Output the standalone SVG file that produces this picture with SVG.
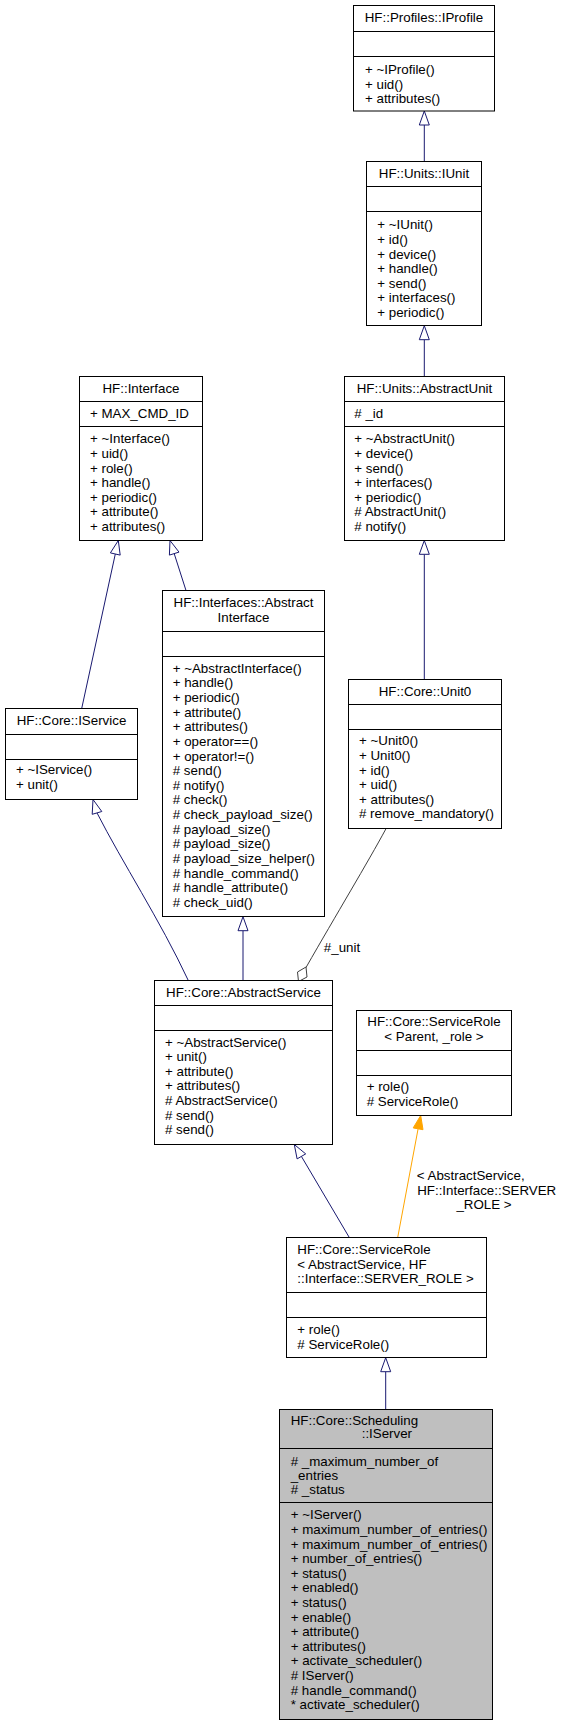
<svg xmlns="http://www.w3.org/2000/svg" width="563" height="1725" viewBox="0 0 563 1725">
<style>
.box{fill:#fff;stroke:#000;stroke-width:1}
.gbox{fill:#bfbfbf;stroke:#000;stroke-width:1}
.sep{stroke:#000;stroke-width:1}
text{font-family:"Liberation Sans",Arial,Helvetica,sans-serif;font-size:13.33px;fill:#000}
.c{text-anchor:middle}
.inh{fill:none;stroke:#191970;stroke-width:1}
.inhA{fill:#fff;stroke:#191970;stroke-width:1}
.tpl{fill:none;stroke:#ffa500;stroke-width:1}
.tplA{fill:#ffa500;stroke:#ffa500;stroke-width:1}
.use{fill:none;stroke:#404040;stroke-width:1}
.useA{fill:#fff;stroke:#404040;stroke-width:1}
</style>
<rect width="563" height="1725" fill="#fff"/>

<g id="connectors">
  <!-- IUnit -> IProfile -->
  <path class="inh" d="M424.3,125 L424.3,161.5"/>
  <polygon class="inhA" points="424.3,111 419.3,125 429.3,125"/>
  <!-- AbstractUnit -> IUnit -->
  <path class="inh" d="M424.3,339.7 L424.3,376.5"/>
  <polygon class="inhA" points="424.3,325.7 419.3,339.7 429.3,339.7"/>
  <!-- Unit0 -> AbstractUnit -->
  <path class="inh" d="M424.3,554.3 L424.3,679.5"/>
  <polygon class="inhA" points="424.3,540.5 419.3,554.3 429.3,554.3"/>
  <!-- IService -> Interface -->
  <path class="inh" d="M115.3,554 L81.7,708.5"/>
  <polygon class="inhA" points="118.3,540.5 120.2,555.1 110.4,552.9"/>
  <!-- AbstractInterface -> Interface -->
  <path class="inh" d="M174.2,553.6 L186,590.5"/>
  <polygon class="inhA" points="170,540.5 179,552.1 169.4,555.1"/>
  <!-- AbstractService -> IService -->
  <path class="inh" d="M97,812.9 C122,862 160,920 188.3,980.5"/>
  <polygon class="inhA" points="93,799.5 101.8,811.5 92.2,814.3"/>
  <!-- AbstractService -> AbstractInterface -->
  <path class="inh" d="M243,930.7 L243,980.5"/>
  <polygon class="inhA" points="243,916.7 238,930.7 248,930.7"/>
  <!-- Unit0 used by AbstractService (#_unit) -->
  <path class="use" d="M386,828.7 C368,862 336,915 306,967.5"/>
  <polygon class="useA" points="306,967 307,977 298.5,981.5 297.5,972"/>
  <text x="342" y="951.5" class="c">#_unit</text>
  <!-- ServiceRole<AS> -> AbstractService -->
  <path class="inh" d="M301.4,1156.4 L349.3,1237.5"/>
  <polygon class="inhA" points="294.3,1144.5 305.7,1153.9 297.1,1158.9"/>
  <!-- ServiceRole<AS> -> ServiceRole<Parent,_role> (template) -->
  <path class="tpl" d="M418.1,1128.8 L397.7,1237.5"/>
  <polygon class="tplA" points="420.7,1115.5 423,1129.7 413.2,1127.9"/>
  <text x="470.7" y="1180" class="c">&lt; AbstractService,</text>
  <text x="486.7" y="1194.5" class="c">HF::Interface::SERVER</text>
  <text x="484" y="1209.3" class="c">_ROLE &gt;</text>
  <!-- IServer -> ServiceRole<AS> -->
  <path class="inh" d="M385.7,1371.7 L385.7,1409.5"/>
  <polygon class="inhA" points="385.7,1357.7 380.7,1371.7 390.7,1371.7"/>
</g>

<g id="IProfile">
  <rect class="box" x="353.5" y="5.5" width="141" height="105.5"/>
  <line class="sep" x1="353.5" y1="31.5" x2="494.5" y2="31.5"/>
  <line class="sep" x1="353.5" y1="56.5" x2="494.5" y2="56.5"/>
  <text x="424" y="21.7" class="c">HF::Profiles::IProfile</text>
  <text x="365" y="74">+ ~IProfile()</text>
  <text x="365" y="88.6">+ uid()</text>
  <text x="365" y="103.2">+ attributes()</text>
</g>

<g id="IUnit">
  <rect class="box" x="366.5" y="161.5" width="115" height="164"/>
  <line class="sep" x1="366.5" y1="186.5" x2="481.5" y2="186.5"/>
  <line class="sep" x1="366.5" y1="211.5" x2="481.5" y2="211.5"/>
  <text x="424" y="178" class="c">HF::Units::IUnit</text>
  <text x="377.3" y="229.3">+ ~IUnit()</text>
  <text x="377.3" y="243.9">+ id()</text>
  <text x="377.3" y="258.5">+ device()</text>
  <text x="377.3" y="273.1">+ handle()</text>
  <text x="377.3" y="287.7">+ send()</text>
  <text x="377.3" y="302.3">+ interfaces()</text>
  <text x="377.3" y="316.9">+ periodic()</text>
</g>

<g id="AbstractUnit">
  <rect class="box" x="344.5" y="376.5" width="160" height="164"/>
  <line class="sep" x1="344.5" y1="401.5" x2="504.5" y2="401.5"/>
  <line class="sep" x1="344.5" y1="426.5" x2="504.5" y2="426.5"/>
  <text x="424.5" y="392.7" class="c">HF::Units::AbstractUnit</text>
  <text x="354.3" y="417.6"># _id</text>
  <text x="354.3" y="443.3">+ ~AbstractUnit()</text>
  <text x="354.3" y="457.9">+ device()</text>
  <text x="354.3" y="472.5">+ send()</text>
  <text x="354.3" y="487.1">+ interfaces()</text>
  <text x="354.3" y="501.7">+ periodic()</text>
  <text x="354.3" y="516.3"># AbstractUnit()</text>
  <text x="354.3" y="530.9"># notify()</text>
</g>

<g id="Interface">
  <rect class="box" x="79.5" y="376.5" width="123" height="164"/>
  <line class="sep" x1="79.5" y1="401.5" x2="202.5" y2="401.5"/>
  <line class="sep" x1="79.5" y1="426.5" x2="202.5" y2="426.5"/>
  <text x="141" y="392.7" class="c">HF::Interface</text>
  <text x="90" y="417.6">+ MAX_CMD_ID</text>
  <text x="90" y="443.3">+ ~Interface()</text>
  <text x="90" y="457.9">+ uid()</text>
  <text x="90" y="472.5">+ role()</text>
  <text x="90" y="487.1">+ handle()</text>
  <text x="90" y="501.7">+ periodic()</text>
  <text x="90" y="516.3">+ attribute()</text>
  <text x="90" y="530.9">+ attributes()</text>
</g>

<g id="AbstractInterface">
  <rect class="box" x="162.5" y="590.5" width="162" height="326"/>
  <line class="sep" x1="162.5" y1="631.5" x2="324.5" y2="631.5"/>
  <line class="sep" x1="162.5" y1="656.5" x2="324.5" y2="656.5"/>
  <text x="243.5" y="607" class="c">HF::Interfaces::Abstract</text>
  <text x="243.5" y="621.6" class="c">Interface</text>
  <text x="172.7" y="672.6">+ ~AbstractInterface()</text>
  <text x="172.7" y="687.25">+ handle()</text>
  <text x="172.7" y="701.9">+ periodic()</text>
  <text x="172.7" y="716.55">+ attribute()</text>
  <text x="172.7" y="731.2">+ attributes()</text>
  <text x="172.7" y="745.85">+ operator==()</text>
  <text x="172.7" y="760.5">+ operator!=()</text>
  <text x="172.7" y="775.15"># send()</text>
  <text x="172.7" y="789.8"># notify()</text>
  <text x="172.7" y="804.45"># check()</text>
  <text x="172.7" y="819.1"># check_payload_size()</text>
  <text x="172.7" y="833.75"># payload_size()</text>
  <text x="172.7" y="848.4"># payload_size()</text>
  <text x="172.7" y="863.05"># payload_size_helper()</text>
  <text x="172.7" y="877.7"># handle_command()</text>
  <text x="172.7" y="892.35"># handle_attribute()</text>
  <text x="172.7" y="907"># check_uid()</text>
</g>

<g id="IService">
  <rect class="box" x="5.5" y="708.5" width="132" height="91"/>
  <line class="sep" x1="5.5" y1="734.5" x2="137.5" y2="734.5"/>
  <line class="sep" x1="5.5" y1="759.5" x2="137.5" y2="759.5"/>
  <text x="71.5" y="725" class="c">HF::Core::IService</text>
  <text x="16" y="774.3">+ ~IService()</text>
  <text x="16" y="788.9">+ unit()</text>
</g>

<g id="Unit0">
  <rect class="box" x="348.5" y="679.5" width="153" height="149"/>
  <line class="sep" x1="348.5" y1="704.5" x2="501.5" y2="704.5"/>
  <line class="sep" x1="348.5" y1="729.5" x2="501.5" y2="729.5"/>
  <text x="425" y="695.7" class="c">HF::Core::Unit0</text>
  <text x="359" y="745.3">+ ~Unit0()</text>
  <text x="359" y="759.9">+ Unit0()</text>
  <text x="359" y="774.5">+ id()</text>
  <text x="359" y="789.1">+ uid()</text>
  <text x="359" y="803.7">+ attributes()</text>
  <text x="359" y="818.3"># remove_mandatory()</text>
</g>

<g id="AbstractService">
  <rect class="box" x="154.5" y="980.5" width="178" height="164"/>
  <line class="sep" x1="154.5" y1="1005.5" x2="332.5" y2="1005.5"/>
  <line class="sep" x1="154.5" y1="1030.5" x2="332.5" y2="1030.5"/>
  <text x="243.5" y="997" class="c">HF::Core::AbstractService</text>
  <text x="165" y="1046.6">+ ~AbstractService()</text>
  <text x="165" y="1061.2">+ unit()</text>
  <text x="165" y="1075.8">+ attribute()</text>
  <text x="165" y="1090.4">+ attributes()</text>
  <text x="165" y="1105"># AbstractService()</text>
  <text x="165" y="1119.6"># send()</text>
  <text x="165" y="1134.2"># send()</text>
</g>

<g id="ServiceRoleTemplate">
  <rect class="box" x="356.5" y="1010.5" width="155" height="105"/>
  <line class="sep" x1="356.5" y1="1050.5" x2="511.5" y2="1050.5"/>
  <line class="sep" x1="356.5" y1="1075.5" x2="511.5" y2="1075.5"/>
  <text x="434" y="1026" class="c">HF::Core::ServiceRole</text>
  <text x="434" y="1041" class="c">&lt; Parent, _role &gt;</text>
  <text x="366.7" y="1091">+ role()</text>
  <text x="366.7" y="1105.6"># ServiceRole()</text>
</g>

<g id="ServiceRoleAbstractService">
  <rect class="box" x="286.5" y="1237.5" width="200" height="120"/>
  <line class="sep" x1="286.5" y1="1292.5" x2="486.5" y2="1292.5"/>
  <line class="sep" x1="286.5" y1="1317.5" x2="486.5" y2="1317.5"/>
  <text x="297.3" y="1254.3">HF::Core::ServiceRole</text>
  <text x="297.3" y="1268.7">&lt; AbstractService, HF</text>
  <text x="297.3" y="1283.3">::Interface::SERVER_ROLE &gt;</text>
  <text x="297.3" y="1333.6">+ role()</text>
  <text x="297.3" y="1348.9"># ServiceRole()</text>
</g>

<g id="IServer">
  <rect class="gbox" x="279.5" y="1409.5" width="213" height="310"/>
  <line class="sep" x1="279.5" y1="1448.5" x2="492.5" y2="1448.5"/>
  <line class="sep" x1="279.5" y1="1502.5" x2="492.5" y2="1502.5"/>
  <text x="290.7" y="1425">HF::Core::Scheduling</text>
  <text x="361.7" y="1437.6">::IServer</text>
  <text x="290.7" y="1466"># _maximum_number_of</text>
  <text x="290.7" y="1479.5">_entries</text>
  <text x="290.7" y="1493.6"># _status</text>
  <text x="290.7" y="1519.3">+ ~IServer()</text>
  <text x="290.7" y="1533.9">+ maximum_number_of_entries()</text>
  <text x="290.7" y="1548.5">+ maximum_number_of_entries()</text>
  <text x="290.7" y="1563.1">+ number_of_entries()</text>
  <text x="290.7" y="1577.7">+ status()</text>
  <text x="290.7" y="1592.3">+ enabled()</text>
  <text x="290.7" y="1606.9">+ status()</text>
  <text x="290.7" y="1621.5">+ enable()</text>
  <text x="290.7" y="1636.1">+ attribute()</text>
  <text x="290.7" y="1650.7">+ attributes()</text>
  <text x="290.7" y="1665.3">+ activate_scheduler()</text>
  <text x="290.7" y="1679.9"># IServer()</text>
  <text x="290.7" y="1694.5"># handle_command()</text>
  <text x="290.7" y="1709.1">* activate_scheduler()</text>
</g>
</svg>
